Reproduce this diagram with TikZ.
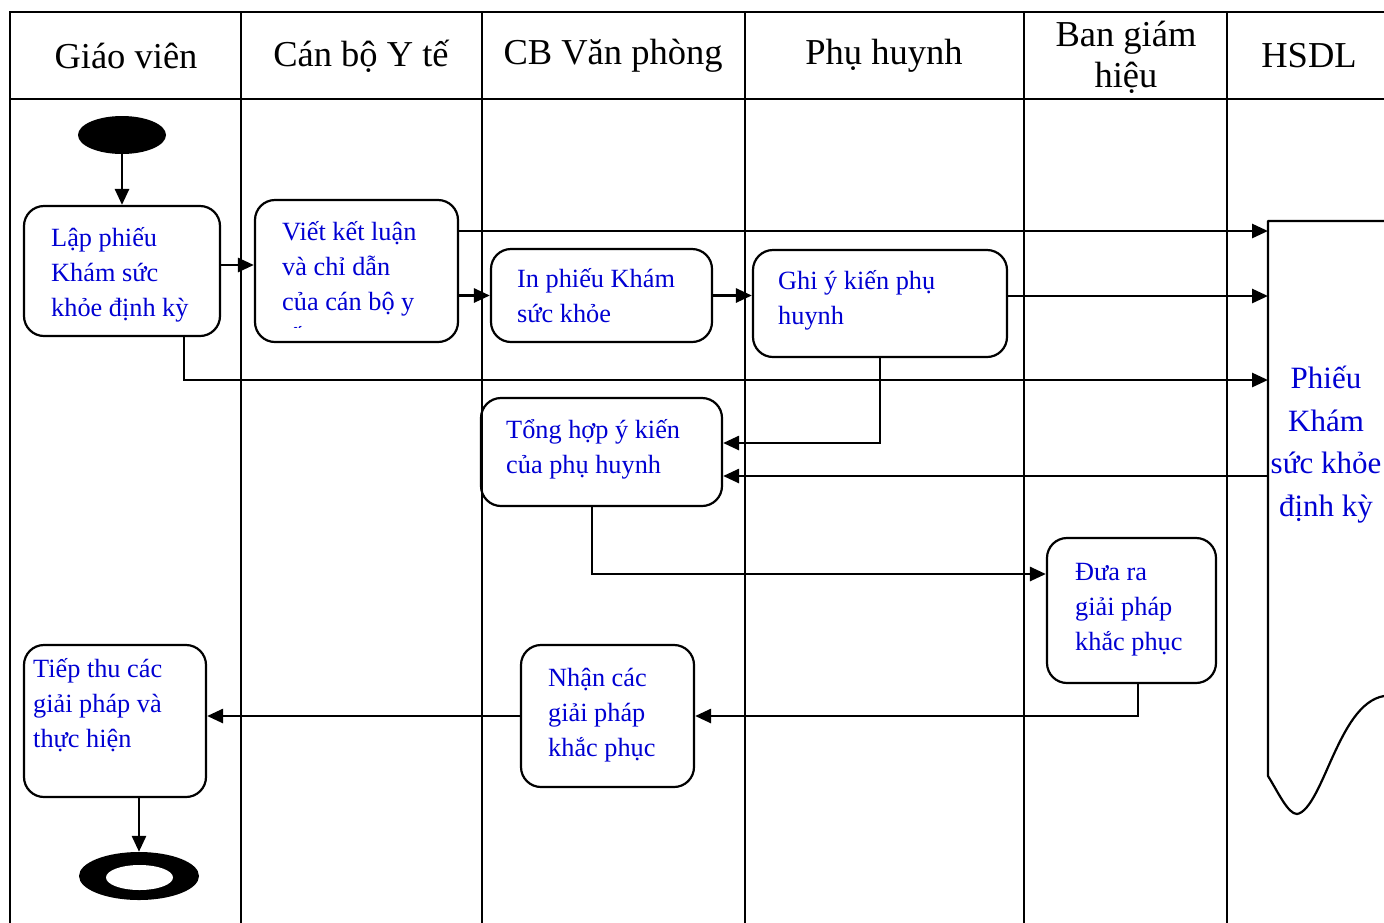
\documentclass[tikz,border=0pt]{standalone}
\usepackage{fontspec}
\setmainfont{Liberation Serif}
\usetikzlibrary{arrows.meta,shapes.geometric}
\definecolor{txtblue}{RGB}{0,0,210}

\begin{document}
\begin{tikzpicture}[x=1pt,y=-1pt,
  lane/.style={line width=2.8pt, line cap=rect},
  box/.style={draw, line width=2.2pt, rounded corners=20pt, inner sep=0pt},
  flow/.style={line width=2.8pt, -{Triangle[length=16pt,width=14pt]}},
  head/.style={font=\fontsize{36.5pt}{41pt}\selectfont, align=center, inner sep=0pt},
  body/.style={font=\fontsize{26.3pt}{35pt}\selectfont, text=txtblue, align=left, inner sep=0pt, anchor=base west},
  doctext/.style={font=\fontsize{31pt}{42.5pt}\selectfont, text=txtblue, align=center, inner sep=0pt, anchor=base}
]
\useasboundingbox (0,0) rectangle (1384,922);

% swimlane grid
\draw[lane] (10,12) -- (1384,12);
\draw[lane] (10,99) -- (1384,99);
\foreach \lx in {10,241,482,745,1024,1227}
  \draw[lane] (\lx,12) -- (\lx,922);

% lane headings
\node[head] (h1) at (126,56) {Giáo viên};
\node[head] (h2) at (361,56) {Cán bộ Y tế};
\node[head] (h3) at (613,56) {CB Văn phòng};
\node[head] (h4) at (884,56) {Phụ huynh};
\node[head] (h5) at (1126,57) {Ban giám\\hiệu};
\node[head] (h6) at (1309,56) {HSDL};

% start and end
\node[ellipse, fill=black, minimum width=88pt, minimum height=38pt, inner sep=0pt] (start) at (122,135) {};
\node[ellipse, fill=black, minimum width=120pt, minimum height=48pt, inner sep=0pt] (end) at (139,876) {};
\fill[white] (139.5,877.5) ellipse [x radius=33.5pt, y radius=12.5pt];

% activity boxes
\node[box, minimum width=196pt, minimum height=130pt] (b1) at (122,271) {};
\node[box, minimum width=203pt, minimum height=142pt] (b2) at (356.5,271) {};
\node[box, minimum width=221pt, minimum height=93pt]  (b3) at (601.5,295.5) {};
\node[box, minimum width=254pt, minimum height=107pt] (b4) at (880,303.5) {};
\node[box, minimum width=241pt, minimum height=108pt] (b5) at (601.5,452) {};
\node[box, minimum width=169pt, minimum height=145pt] (b6) at (1131.5,610.5) {};
\node[box, minimum width=173pt, minimum height=142pt] (b7) at (607.5,716) {};
\node[box, minimum width=182pt, minimum height=152pt] (b8) at (115,721) {};

% box texts (anchored at the baseline of the last line)
\node[body] (t1) at (51,316) {Lập phiếu\\Khám sức\\khỏe định kỳ};
\begin{scope}
  \clip (255,200) rectangle (458,327.5);
  \node[body] (t2) at (282,345) {Viết kết luận\\và chỉ dẫn\\của cán bộ y\\tế};
\end{scope}
\node[body] (t3) at (517,322) {In phiếu Khám\\sức khỏe};
\node[body] (t4) at (778,324) {Ghi ý kiến phụ\\huynh};
\node[body] (t5) at (506,473) {Tổng hợp ý kiến\\của phụ huynh};
\node[body] (t6) at (1075,650) {Đưa ra\\giải pháp\\khắc phục};
\node[body] (t7) at (548,756) {Nhận các\\giải pháp\\khắc phục};
\node[body] (t8) at (33,747) {Tiếp thu các\\giải pháp và\\thực hiện};

% document store
\draw[line width=2.2pt, line join=round] (1384,221) -- (1268,221) -- (1268,776)
  .. controls (1278,792) and (1288,814) .. (1297,814)
  .. controls (1310,812) and (1322,780) .. (1333,756)
  .. controls (1345,730) and (1360,700) .. (1384,696);
\node[doctext] (doc) at (1326,516) {Phiếu\\Khám\\sức khỏe\\định kỳ};
\coordinate (p1) at (1268,231);
\coordinate (p2) at (1268,296);
\coordinate (p3) at (1268,380);
\coordinate (p4) at (1268,476);

% flows
\draw[flow] (start.south) -- (start.south |- b1.north);
\draw[flow] ([yshift=6pt]b1.east) -- ([yshift=6pt]b1.east -| b2.west);
\draw[flow] (b2.east |- p1) -- (p1);
\draw[flow] (b2.east |- b3.west) -- (b3.west);
\draw[flow] (b3.east) -- (b3.east -| b4.west);
\draw[flow] (b4.east |- p2) -- (p2);
\draw[flow] ([xshift=62pt]b1.south) |- (p3);
\draw[flow] (b4.south) |- ([yshift=9pt]b5.east);
\draw[flow] (p4) -- (b5.east |- p4);
\draw[flow] ([xshift=-9.5pt]b5.south) |- ([yshift=36.5pt]b6.west);
\draw[flow] ([xshift=6.5pt]b6.south) |- (b7.east);
\draw[flow] (b7.west) -- (b7.west -| b8.east);
\draw[flow] (b8.south -| end.north) -- (end.north);
\end{tikzpicture}
\end{document}
